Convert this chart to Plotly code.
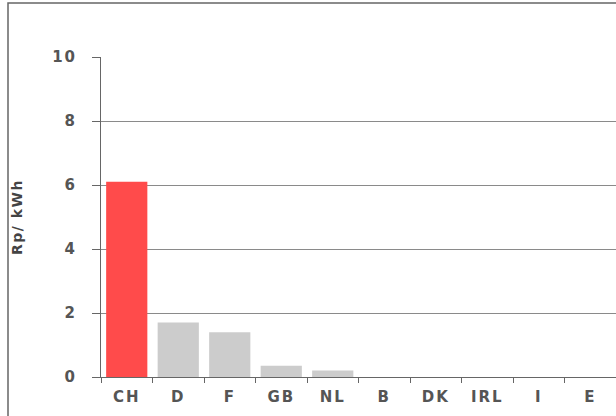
import plotly.graph_objects as go

countries = ['CH', 'D', 'F', 'GB', 'NL', 'B', 'DK', 'IRL', 'I', 'E']
rp_per_kwh = [6.1, 1.7, 1.4, 0.35, 0.2, 0, 0, 0, 0, 0]
y_ticks = [0, 2, 4, 6, 8, 10]

bar_colors = ['#FF4B4B'] + ['#CCCCCC'] * (len(countries) - 1)

fig = go.Figure(go.Bar(
    x=countries,
    y=rp_per_kwh,
    marker=dict(color=bar_colors, line=dict(width=0)),
))

tick_font = dict(family='DejaVu Sans, Verdana, sans-serif', size=15, color='#555555', weight='bold')

fig.update_layout(
    width=616,
    height=416,
    margin=dict(l=101, r=0, t=57, b=39, autoexpand=False),
    paper_bgcolor='white',
    plot_bgcolor='white',
    bargap=0.2,
    showlegend=False,
    xaxis=dict(
        tickson='boundaries',
        ticks='outside',
        ticklen=5,
        tickcolor='#666666',
        showline=True,
        linecolor='#666666',
        linewidth=1,
        showgrid=False,
        tickfont=tick_font,
        ticklabelstandoff=6,
        automargin=False,
    ),
    yaxis=dict(
        range=[0, 10],
        tickvals=y_ticks,
        ticks='outside',
        ticklen=8,
        tickcolor='#666666',
        showline=True,
        linecolor='#666666',
        linewidth=1,
        showgrid=True,
        gridcolor='#8A8A8A',
        gridwidth=1,
        zeroline=False,
        tickfont=tick_font,
        ticklabelstandoff=12,
        automargin=False,
        title=dict(text='<b>Rp/ kWh</b>', font=dict(family='DejaVu Sans, Verdana, sans-serif',
                                                     size=14, color='#444444'), standoff=30),
    ),
    shapes=[dict(
        type='rect', xref='paper', yref='paper',
        x0=(8 - 101) / 515, x1=1.2, y0=-0.3, y1=1 + (57 - 3) / 320,
        line=dict(color='#666666', width=1.5), fillcolor='rgba(0,0,0,0)', layer='below',
    )],
)

# no page margin; a little wider letter spacing like the original's stretched labels
css = """
document.body.style.margin='0';
var s = document.createElement('style');
s.innerHTML = '.xtick text{letter-spacing:2px} .ytick text{letter-spacing:2px} .ytitle{letter-spacing:1.5px}';
document.head.appendChild(s);
"""
fig.write_html('out.html', post_script=css, config=dict(displayModeBar=False))
